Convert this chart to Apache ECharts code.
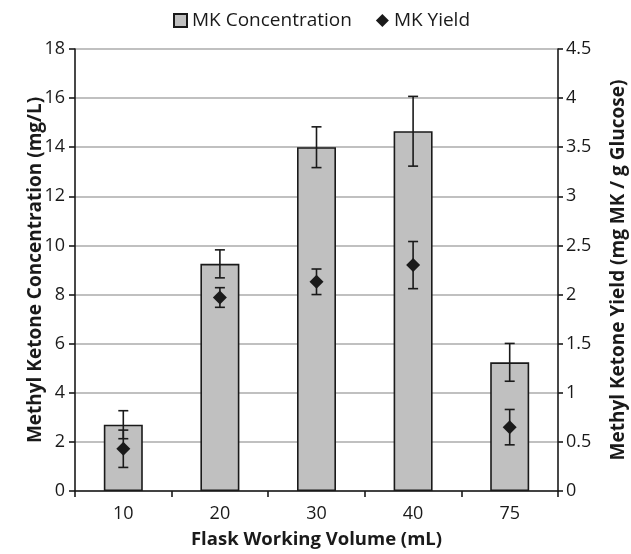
<!DOCTYPE html>
<html lang="en">
<head>
    <meta charset="UTF-8">
    <script src="https://cdn.jsdelivr.net/npm/echarts@6/dist/echarts.min.js"></script>
</head>
<body style="margin:0">
<div style="width: 631px;height: 554px" id="chart"></div>

<script>
    // values
    var volumes = ['10', '20', '30', '40', '75']
    var concentration = [2.7, 9.25, 14.0, 14.65, 5.24]
    var concentrationErr = [0.57, 0.57, 0.83, 1.42, 0.77]
    var yieldVals = [0.43, 1.97, 2.13, 2.30, 0.65]
    var yieldErr = [0.19, 0.10, 0.13, 0.24, 0.18]

    var font = 'Open Sans'
    var dark = '#1a1a1a'

    function errData(vals, errs) {
        return vals.map(function (v, i) {
            return [i, v - errs[i], v + errs[i]]
        })
    }

    function errRender(params, api) {
        var x = api.value(0)
        var lo = api.coord([x, api.value(1)])
        var hi = api.coord([x, api.value(2)])
        var half = 5
        var st = { stroke: dark, lineWidth: 1.6 }
        return {
            type: 'group',
            children: [
                { type: 'line', shape: { x1: hi[0], y1: hi[1], x2: lo[0], y2: lo[1] }, style: st },
                { type: 'line', shape: { x1: hi[0] - half, y1: hi[1], x2: hi[0] + half, y2: hi[1] }, style: st },
                { type: 'line', shape: { x1: lo[0] - half, y1: lo[1], x2: lo[0] + half, y2: lo[1] }, style: st }
            ]
        }
    }

    var myChart = echarts.init(document.getElementById('chart'))
    var option = {
        animation: false,
        textStyle: { fontFamily: font },
        legend: {
            top: 6,
            left: 168,
            itemGap: 24,
            itemWidth: 13,
            itemHeight: 13,
            textStyle: { fontSize: 19, color: dark, fontFamily: font },
            data: [
                { name: 'MK Concentration', icon: 'rect' },
                { name: 'MK Yield', icon: 'diamond' }
            ]
        },
        grid: { left: 75, right: 73, top: 49, bottom: 63, outerBoundsMode: 'none' },
        xAxis: {
            type: 'category',
            data: volumes,
            name: 'Flask Working Volume (mL)',
            nameLocation: 'middle',
            nameGap: 39,
            nameMoveOverlap: false,
            nameTextStyle: { fontSize: 18.5, fontWeight: 'bold', color: dark },
            axisLine: { lineStyle: { color: dark, width: 1.6 } },
            axisTick: { show: true, length: 6, lineStyle: { color: dark, width: 1.6 } },
            axisLabel: { fontSize: 18, color: dark, margin: 14 }
        },
        yAxis: [
            {
                type: 'value',
                min: 0, max: 18, interval: 2,
                name: 'Methyl Ketone Concentration (mg/L)',
                nameLocation: 'middle',
                nameGap: 30,
                nameMoveOverlap: false,
                nameTextStyle: { fontSize: 19, fontWeight: 'bold', color: dark },
                axisLine: { show: true, lineStyle: { color: dark, width: 1.6 } },
                axisTick: { show: true, length: 6, lineStyle: { color: dark, width: 1.6 } },
                axisLabel: { fontSize: 18, color: dark, margin: 10 },
                splitLine: { lineStyle: { color: '#ababab', width: 1.5 } }
            },
            {
                type: 'value',
                min: 0, max: 4.5, interval: 0.5,
                position: 'right',
                name: 'Methyl Ketone Yield (mg MK / g Glucose)',
                nameLocation: 'middle',
                nameGap: 51,
                nameRotate: 90,
                nameMoveOverlap: false,
                nameTextStyle: { fontSize: 19, fontWeight: 'bold', color: dark },
                axisLine: { show: true, lineStyle: { color: dark, width: 1.6 } },
                axisTick: { show: true, length: 5, lineStyle: { color: dark, width: 1.6 } },
                axisLabel: { fontSize: 18, color: dark, margin: 8 },
                splitLine: { show: false }
            }
        ],
        series: [
            {
                name: 'MK Concentration',
                type: 'bar',
                yAxisIndex: 0,
                barWidth: 39,
                itemStyle: { color: '#c0c0c0', borderColor: dark, borderWidth: 1.6 },
                data: concentration
            },
            {
                name: 'concErr',
                type: 'custom',
                yAxisIndex: 0,
                renderItem: errRender,
                data: errData(concentration, concentrationErr),
                z: 5
            },
            {
                name: 'MK Yield',
                type: 'scatter',
                yAxisIndex: 1,
                symbol: 'diamond',
                symbolSize: 14,
                itemStyle: { color: dark, opacity: 1 },
                data: yieldVals,
                z: 6
            },
            {
                name: 'yieldErr',
                type: 'custom',
                yAxisIndex: 1,
                renderItem: errRender,
                data: errData(yieldVals, yieldErr),
                z: 5
            }
        ]
    }
    myChart.setOption(option)
</script>
</body>
</html>
